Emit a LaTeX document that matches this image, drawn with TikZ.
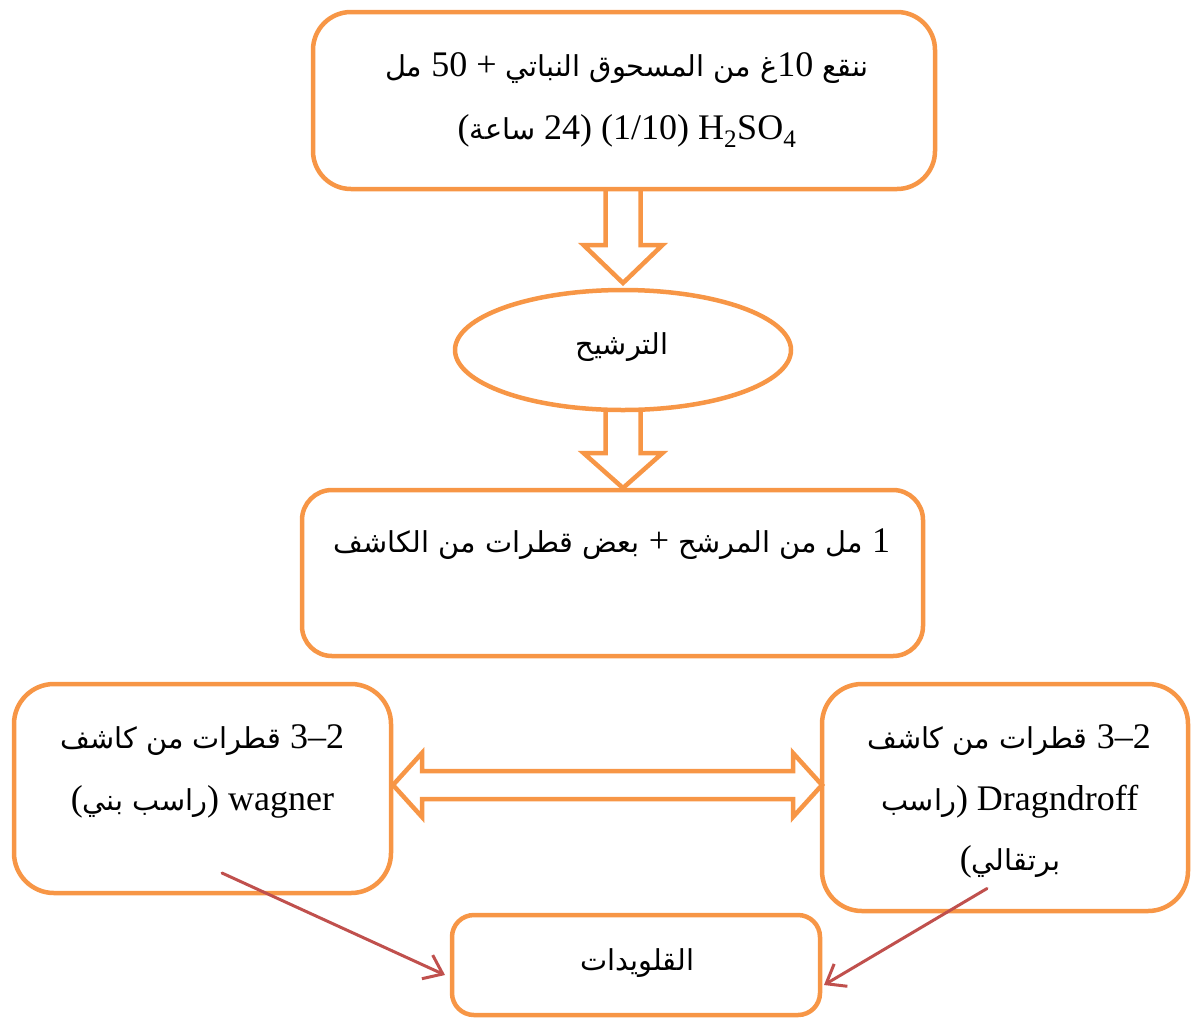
\documentclass[tikz,border=0pt]{standalone}
\usepackage{fontspec}
\setmainfont{Liberation Serif}
\newfontfamily\arabicfont[Script=Arabic,Scale=0.8]{DejaVu Sans}
\TeXXeTstate=1
\usetikzlibrary{calc,arrows.meta,shapes.geometric}
\definecolor{boxorange}{HTML}{F79646}
\definecolor{linkred}{HTML}{C0504D}
% a run of Arabic words, set right to left
\newcommand{\ar}[1]{{\arabicfont\beginR #1\endR}}

\begin{document}
\begin{tikzpicture}[x=1pt,y=-1pt,
  roundbox/.style={draw=boxorange, line width=4.5pt, rounded corners=#1,
    inner sep=0pt, outer sep=0pt},
  oval/.style={draw=boxorange, line width=4.5pt, ellipse, inner sep=0pt, outer sep=0pt},
  txt/.style={anchor=base, inner sep=0pt, font=\fontsize{36}{60}\selectfont},
  block/.style={draw=boxorange, line width=4.5pt, line join=miter},
  link/.style={draw=linkred, line width=3pt, line cap=round,
    -{Straight Barb[length=17pt,width=26pt,line width=3pt]}}]

\useasboundingbox (0,0) rectangle (1191,1021);

% ---- boxes (texts are given in visual order, left to right)
\node[roundbox=38pt, minimum width=622pt, minimum height=177pt] (soak) at (624,100.5) {};
\node[txt] (soak1) at (627,76) {\ar{مل} 50 + \ar{من المسحوق النباتي} \ar{غ}10 \ar{ننقع}};
\node[txt] (soak2) at (627,139) {(\ar{ساعة} 24) (1/10) H\textsubscript{2}SO\textsubscript{4}};

\node[oval, minimum width=336pt, minimum height=120pt] (filt) at (623,350) {};
\node[txt] (filt1) at (622,354) {\ar{الترشيح}};

\node[roundbox=30pt, minimum width=621pt, minimum height=166pt] (mix) at (612.5,573) {};
\node[txt] (mix1) at (612,552) {\ar{بعض قطرات من الكاشف} + \ar{مل من المرشح} 1};

\node[roundbox=40pt, minimum width=377pt, minimum height=209pt] (wag) at (202.5,788.5) {};
\node[txt] (wag1) at (202.5,748) {\ar{قطرات من كاشف} 3–2};
\node[txt] (wag2) at (202.5,810) {(\ar{راسب بني}) wagner};

\node[roundbox=40pt, minimum width=366pt, minimum height=227pt] (dra) at (1005,797.5) {};
\node[txt] (dra1) at (1009,748) {\ar{قطرات من كاشف} 3–2};
\node[txt] (dra2) at (1010,810) {\ar{راسب}) Dragndroff};
\node[txt] (dra3) at (1010,870) {(\ar{برتقالي}};

\node[roundbox=22pt, minimum width=368pt, minimum height=100pt] (alk) at (636,965) {};
\node[txt] (alk1) at (637,970) {\ar{القلويدات}};

% ---- hollow block arrows
\coordinate (a1tip) at ($(filt.north)+(0,-7)$);
\coordinate (a1top) at ($(a1tip |- soak.south)+(0,2)$);
\draw[block] ($(a1top)+(-17.5,0)$) -- ($(a1tip)+(-17.5,-38)$) -- ($(a1tip)+(-39.5,-38)$)
  -- (a1tip) -- ($(a1tip)+(39.5,-38)$) -- ($(a1tip)+(17.5,-38)$) -- ($(a1top)+(17.5,0)$);

\coordinate (a2tip) at ($(filt.center |- mix.north)+(0,-2)$);
\coordinate (a2top) at ($(filt.south)+(0,1)$);
\draw[block] ($(a2top)+(-17.5,0)$) -- ($(a2tip)+(-17.5,-35)$) -- ($(a2tip)+(-39.5,-35)$)
  -- (a2tip) -- ($(a2tip)+(39.5,-35)$) -- ($(a2tip)+(17.5,-35)$) -- ($(a2top)+(17.5,0)$);

% ---- double block arrow between the two reagents
\coordinate (dL) at ($(wag.east)+(2,-3.5)$);
\coordinate (dR) at ($(dra.west)+(0,-12.5)$);
\draw[block] (dL) -- ($(dL)+(29,-32)$) -- ($(dL)+(29,-14)$) -- ($(dR)+(-29,-14)$)
  -- ($(dR)+(-29,-32)$) -- (dR) -- ($(dR)+(-29,32)$) -- ($(dR)+(-29,14)$)
  -- ($(dL)+(29,14)$) -- ($(dL)+(29,32)$) -- cycle;

% ---- both tests lead to the alkaloids
\coordinate (wagfrom) at ($(wag.south)+(19.5,-20)$);
\coordinate (drafrom) at ($(dra.south)+(-18,-22.5)$);
\draw[link] (wagfrom) -- ($(alk.west)+(-7,10)$);
\draw[link] (drafrom) -- ($(alk.east)+(4,20)$);
\end{tikzpicture}
\end{document}
